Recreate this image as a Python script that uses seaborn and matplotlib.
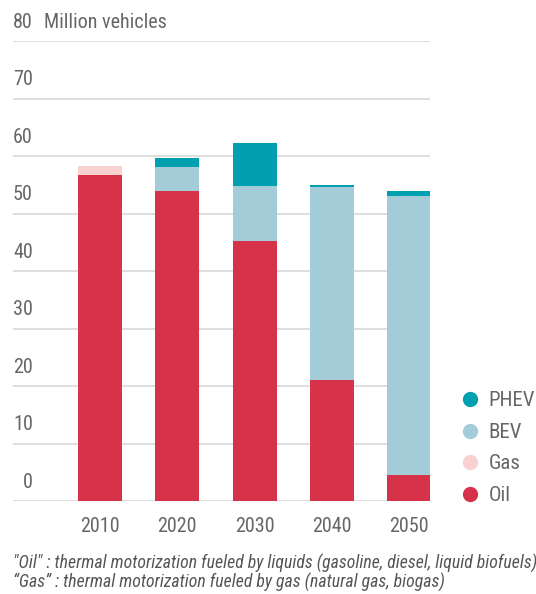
import matplotlib
matplotlib.use("Agg")
import matplotlib.pyplot as plt
from matplotlib.lines import Line2D
import numpy as np
import seaborn as sns

# data (million vehicles)
years = ["2010", "2020", "2030", "2040", "2050"]
oil = [56.7, 54.0, 45.3, 21.1, 4.6]
gas = [1.6, 0.0, 0.0, 0.0, 0.0]
bev = [0.0, 4.1, 9.5, 33.6, 48.5]
phev = [0.0, 1.6, 7.5, 0.3, 0.9]

series = ["Oil", "Gas", "BEV", "PHEV"]
colors = {"Oil": "#d6334b", "Gas": "#f9d1d1", "BEV": "#a3ccd8", "PHEV": "#00a0b1"}
y_ticks = [0, 10, 20, 30, 40, 50, 60, 70, 80]
unit_label = "Million vehicles"
notes = ['"Oil" : thermal motorization fueled by liquids (gasoline, diesel, liquid biofuels)',
         '\u201cGas\u201d : thermal motorization fueled by gas (natural gas, biogas)']

sns.set_theme(style="white")
plt.rcParams['font.family'] = ['Roboto Condensed', 'DejaVu Sans Condensed',
                               'Liberation Sans Narrow', 'DejaVu Sans']
plt.rcParams['font.stretch'] = 'condensed'
text_col = "#666666"
fs = 14.5

W, H = 536, 594
fig = plt.figure(figsize=(W / 100, H / 100), dpi=100)
ax = fig.add_axes([13 / W, (H - 501.3) / H, (430 - 13) / W, (501.3 - 41.3) / H])

# stacked bars: draw cumulative totals from the top layer down
layers = {"Oil": np.array(oil), "Gas": np.array(gas), "BEV": np.array(bev), "PHEV": np.array(phev)}
cum = np.zeros(len(years))
cums = {}
for s in series:
    cum = cum + layers[s]
    cums[s] = cum.copy()
for s in reversed(series):
    sns.barplot(x=years, y=cums[s], color=colors[s], saturation=1, width=0.57,
                ax=ax, zorder=2, linewidth=0)

ax.set_ylim(0, 80)
ax.set_xlim(-1.125, 4.27)
ax.set_yticks(y_ticks)
ax.yaxis.grid(True, color="#dedede", linewidth=1.4, zorder=0)
ax.set_axisbelow(True)
sns.despine(ax=ax, left=True, bottom=True, top=True, right=True)
ax.set_yticklabels([])
ax.tick_params(axis="y", length=0)
ax.tick_params(axis="x", length=0, pad=11, labelsize=fs, labelcolor=text_col)
ax.set_xlabel("")
ax.set_ylabel("")

# y labels sit above the gridlines, left aligned
for v in y_ticks:
    ax.annotate(str(v), xy=(0, v), xycoords=("axes fraction", "data"),
                xytext=(0 if v else 7, 7), textcoords="offset points",
                ha="left", va="bottom", fontsize=fs, color=text_col)
ax.annotate(unit_label, xy=(0, 80), xycoords=("axes fraction", "data"),
            xytext=(22, 7), textcoords="offset points",
            ha="left", va="bottom", fontsize=fs, color=text_col)

# legend with round markers
handles = [Line2D([], [], marker="o", linestyle="", markersize=11,
                  markerfacecolor=colors[s], markeredgewidth=0, label=s)
           for s in reversed(series)]
leg = fig.legend(handles=handles, loc="upper left", bbox_to_anchor=(449 / W, 1 - 381 / H),
                 frameon=False, fontsize=15, labelspacing=0.6, handletextpad=0.4,
                 handlelength=1.0, borderpad=0)
for t in leg.get_texts():
    t.set_color(text_col)

for i, n in enumerate(notes):
    fig.text(13 / W, 1 - (563 + 19 * i) / H, n, ha="left", va="center",
             fontsize=12.8, style="italic", color="#555555")

fig.savefig("out.png", dpi=100)
